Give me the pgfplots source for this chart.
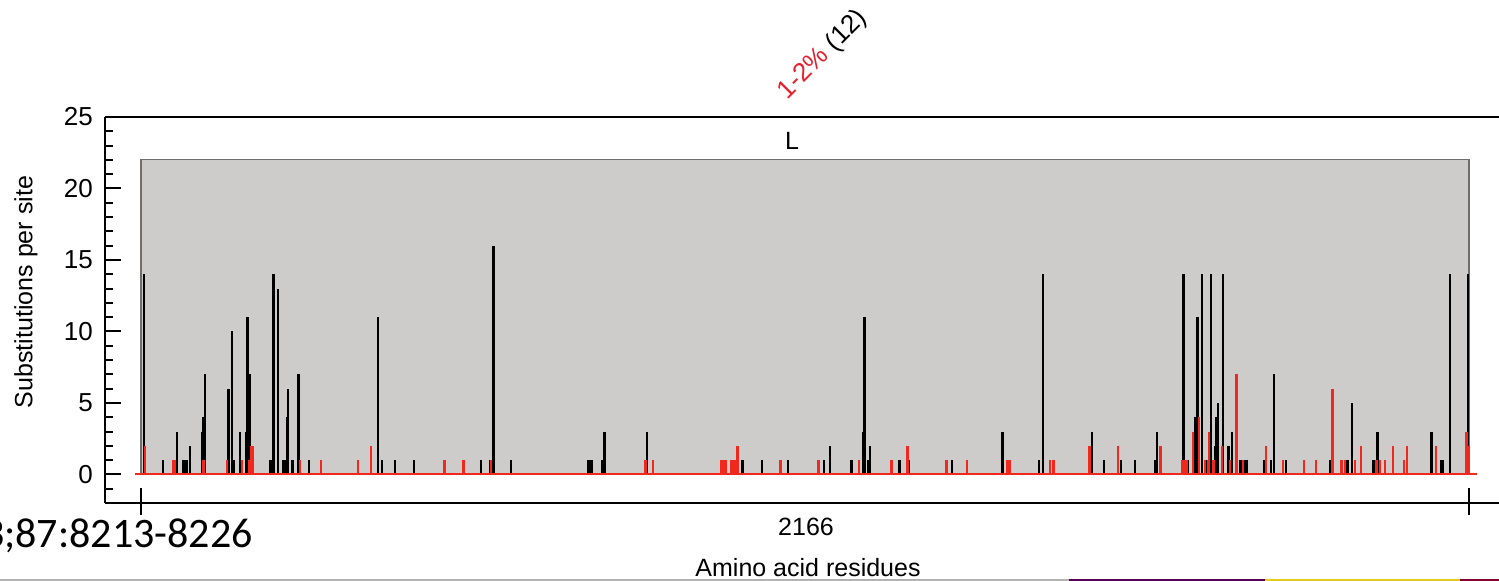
\documentclass[border=0pt]{standalone}
\usepackage{fontspec}
\setmainfont{Liberation Sans}
\newfontfamily\calibri{Carlito}
\usepackage{pgfplots}
\pgfplotsset{compat=1.18}
\definecolor{boxgray}{RGB}{205,204,203}
\definecolor{boxedge}{RGB}{110,110,110}
\definecolor{spikered}{RGB}{240,40,30}
\definecolor{txtred}{RGB}{232,30,45}

\begin{document}
\begin{tikzpicture}[x=0.5pt,y=0.5pt]
\useasboundingbox (0,0) rectangle (1499,581);
\clip (0,0) rectangle (1499,581);
\begin{axis}[
  at={(52.5pt,39pt)}, anchor=south west, scale only axis,
  width=697pt, height=193pt,
  xmin=-58.72, xmax=2214.9, ymin=-2, ymax=25,
  axis x line*=bottom, axis y line*=left,
  axis line style={line width=1.2pt, -},
  xtick=\empty,
  ytick={0,5,10,15,20,25},
  minor ytick={-1,1,2,3,4,6,7,8,9,11,12,13,14,16,17,18,19,21,22,23,24},
  tick align=inside,
  major tick length=7.8pt, minor tick length=4.2pt,
  tick style={line width=1pt, black},
  tick label style={font=\fontsize{13}{15}\selectfont},
  yticklabel style={xshift=-2.6pt},
  /pgf/number format/assume math mode=true,
  clip=false,
]
% grey domain box
\addplot[draw=boxedge, line width=0.6pt, fill=boxgray] coordinates {(0,0) (0,22) (2166,22) (2166,0) (0,0)};
% black spikes: all substitutions
\addplot[ycomb, black, line width=1.2pt, mark=none] coordinates {
(5,14) (36,1) (59,3) (69,1) (72,1) (75,1) (80,2) (100,3) (102,4) (104,7)
(143,6) (148,10) (152,1) (161,3) (172,3) (174,11) (177,7) (181,1)
(211,1) (216,14) (223,13) (232,1) (235,1) (238,4) (240,6) (247,1) (257,7) (274,1)
(387,11) (393,1) (414,1) (445,1) (555,1) (569,1) (575,16) (603,1)
(730,1) (732,1) (736,1) (753,1) (756,3) (825,3)
(981,1) (1013,1) (1055,1) (1114,1) (1124,2) (1159,1) (1178,3) (1180,11) (1186,1) (1189,2)
(1237,1) (1252,1) (1323,1) (1405,3) (1465,1) (1471,14)
(1551,3) (1571,1) (1598,1) (1621,1) (1654,1) (1657,3)
(1700,14) (1708,1) (1720,4) (1723,11) (1730,14) (1737,1) (1745,14) (1752,2) (1754,4) (1757,5)
(1765,14) (1774,2) (1779,3) (1792,1) (1796,1) (1799,1) (1803,1)
(1832,1) (1843,1) (1848,7) (1867,1) (1939,1) (1966,1) (1969,1) (1975,5)
(2010,1) (2017,3) (2105,3) (2120,1) (2123,1) (2135,14) (2164,14)
};
% red spikes: 1-2% substitutions
\addplot[ycomb, spikered, line width=1.2pt, mark=none] coordinates {
(7,2) (53,1) (55,1) (102,1) (140,1) (165,1) (176,1) (179,2) (182,2) (259,1)
(294,1) (354,1) (375,2) (495,1) (526,1) (571,1) (823,1) (835,1)
(947,1) (951,1) (954,1) (962,1) (964,1) (968,1) (973,2) (1043,1) (1104,1) (1106,1)
(1171,1) (1224,1) (1250,2) (1314,1) (1347,1) (1413,1) (1417,1) (1483,1) (1488,1)
(1547,2) (1593,2) (1663,2) (1698,1) (1702,1) (1706,1) (1716,3) (1726,4) (1735,1)
(1740,1) (1742,3) (1749,1) (1763,2) (1776,1) (1787,7) (1797,1) (1835,2) (1863,1)
(1897,1) (1916,1) (1943,6) (1958,1) (1964,1) (1980,1) (1990,2) (2015,1) (2021,1)
(2029,1) (2042,2) (2060,1) (2065,2) (2112,2) (2162,3) (2166,2)
};
% red baseline
\addplot[spikered, line width=0.9pt, mark=none] coordinates {(-10,0) (2179,0)};
% top frame line and x ticks
\draw[line width=1.2pt] (rel axis cs:0,1) -- (rel axis cs:1,1);
\draw[line width=1.2pt] (axis cs:0,-0.95) -- (axis cs:0,-2.84);
\draw[line width=1.2pt] (axis cs:2166,-0.95) -- (axis cs:2166,-2.84);
\node[font=\fontsize{12.5}{15}\selectfont] at (axis cs:1062,23.3) {L};
\end{axis}
\node[rotate=90, font=\fontsize{12.5}{15}\selectfont] at (26,289) {Substitutions per site};
\node[font=\fontsize{12.5}{15}\selectfont] at (806,54) {2166};
\node[anchor=base, font=\fontsize{12.5}{15}\selectfont] at (808,4) {Amino acid residues};
\node[rotate=45, font=\fontsize{13}{15}\selectfont] at (823,526) {\textcolor{txtred}{1-2\%} (12)};
\node[anchor=base east, inner sep=0pt, font=\calibri\fontsize{21}{24}\selectfont] at (253,33) {2013;87:8213-8226};
% slide footer rule
\fill[gray!60] (0,0) rectangle (1069,2);
\fill[violet!70!black] (1069,0) rectangle (1265,2);
\fill[brown!40!yellow] (1265,0) rectangle (1460,2);
\fill[purple!70!black] (1460,0) rectangle (1499,2);
\end{tikzpicture}
\end{document}
